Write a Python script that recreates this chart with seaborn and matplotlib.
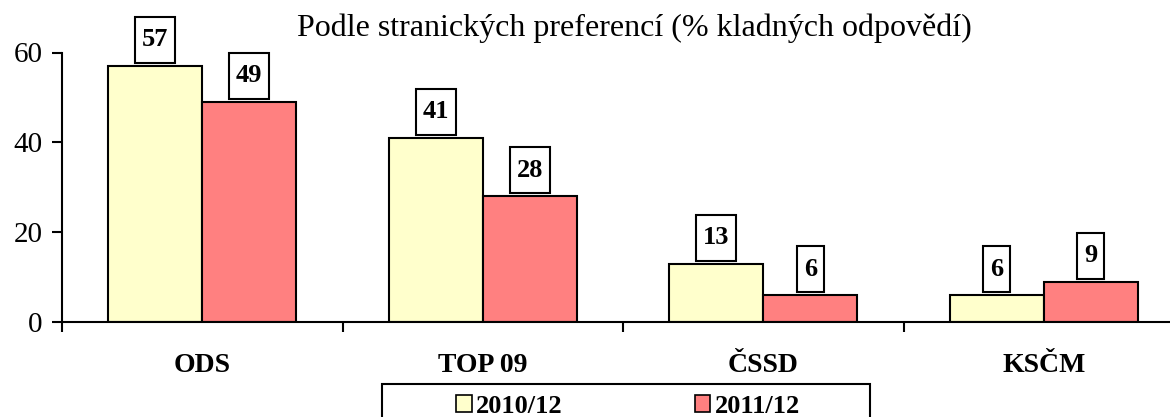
import numpy as np
import pandas as pd
import matplotlib
matplotlib.use('Agg')
import matplotlib.pyplot as plt
from matplotlib.path import Path
from matplotlib.patches import Patch, Rectangle
import seaborn as sns

# data
strany = ['ODS', 'TOP 09', 'ČSSD', 'KSČM']
obdobi = ['2010/12', '2011/12']
hodnoty_2010 = [57, 41, 13, 6]
hodnoty_2011 = [49, 28, 6, 9]
barvy = ['#FFFFCC', '#FF8080']
titulek = 'Podle stranických preferencí (% kladných odpovědí)'

df = pd.DataFrame({
    'strana': strany * 2,
    'obdobi': [obdobi[0]] * len(strany) + [obdobi[1]] * len(strany),
    'hodnota': hodnoty_2010 + hodnoty_2011,
})

sns.set_style('white')
plt.rcParams['font.family'] = ['Liberation Serif', 'DejaVu Serif']
plt.rcParams['text.color'] = 'black'
plt.rcParams['xtick.color'] = 'black'
plt.rcParams['ytick.color'] = 'black'

W, H = 1170, 417
fig = plt.figure(figsize=(W / 100, H / 100), dpi=100)
ax = fig.add_axes([62 / W, 95 / H, 1122 / W, 269.5 / H])

sns.barplot(data=df, x='strana', y='hodnota', hue='obdobi', order=strany,
            hue_order=obdobi, palette=barvy, width=0.67, edgecolor='black',
            linewidth=1.5, saturation=1, ax=ax)
ax.get_legend().remove()

ax.set_xlim(-0.5, len(strany) - 0.5)
ax.set_ylim(0, 60)
ax.set_yticks([0, 20, 40, 60])
ax.set_xlabel('')
ax.set_ylabel('')
for s in ['top', 'right']:
    ax.spines[s].set_visible(False)
for s in ['left', 'bottom']:
    ax.spines[s].set_color('black')
    ax.spines[s].set_linewidth(1.5)

# ticks between the categories, labels centred on groups
ax.set_xticks(np.arange(len(strany)) - 0.5, minor=True)
ax.set_xticks(np.arange(len(strany)))
ax.set_xticklabels(strany, fontsize=20, fontweight='bold')
ax.tick_params(axis='x', which='major', length=0, pad=22)
ax.tick_params(axis='x', which='minor', bottom=True, length=7, width=1.5,
               color='black', direction='out')
ax.tick_params(axis='y', left=True, length=7, width=1.5, color='black',
               direction='out', labelsize=21, pad=7)

PX, PY = 7, 11.5


def box_label(x0, y0, w, h, mutation_size):
    # rectangle with more room above/below than at the sides
    x0, y0, x1, y1 = x0 - PX, y0 - PY, x0 + w + PX, y0 + h + PY
    return Path([(x0, y0), (x1, y0), (x1, y1), (x0, y1), (x0, y0)],
                closed=True)


for cont in ax.containers:
    for bar in cont:
        v = bar.get_height()
        ax.annotate(f'{v:.0f}', (bar.get_x() + bar.get_width() / 2, v),
                    xytext=(0, PY + 3), textcoords='offset pixels',
                    ha='center', va='bottom', fontsize=19,
                    fontweight='bold',
                    bbox=dict(boxstyle=box_label, fc='white', ec='black',
                              lw=1.5),
                    annotation_clip=False)

fig.text(634 / W, 1 - 28 / H, titulek, ha='center', va='center',
         fontsize=23)

# legend box is wider than its content and runs off the bottom edge
fig.patches.append(Rectangle((382 / W, -20 / H), 488 / W, (33 + 20) / H,
                             transform=fig.transFigure, fc='white',
                             ec='black', lw=1.5, zorder=1))
handles = [Patch(facecolor=c, edgecolor='black', linewidth=1.2) for c in barvy]
leg = fig.legend(handles, obdobi, loc='upper center', ncol=2,
                 bbox_to_anchor=(628 / W, 1 - 384 / H),
                 frameon=False,
                 prop={'size': 19, 'weight': 'bold'},
                 handlelength=0.6, handleheight=0.6, handletextpad=0.15,
                 columnspacing=5.0, borderpad=0.4, borderaxespad=0)
leg.set_zorder(2)

fig.savefig('out.png', dpi=100)
